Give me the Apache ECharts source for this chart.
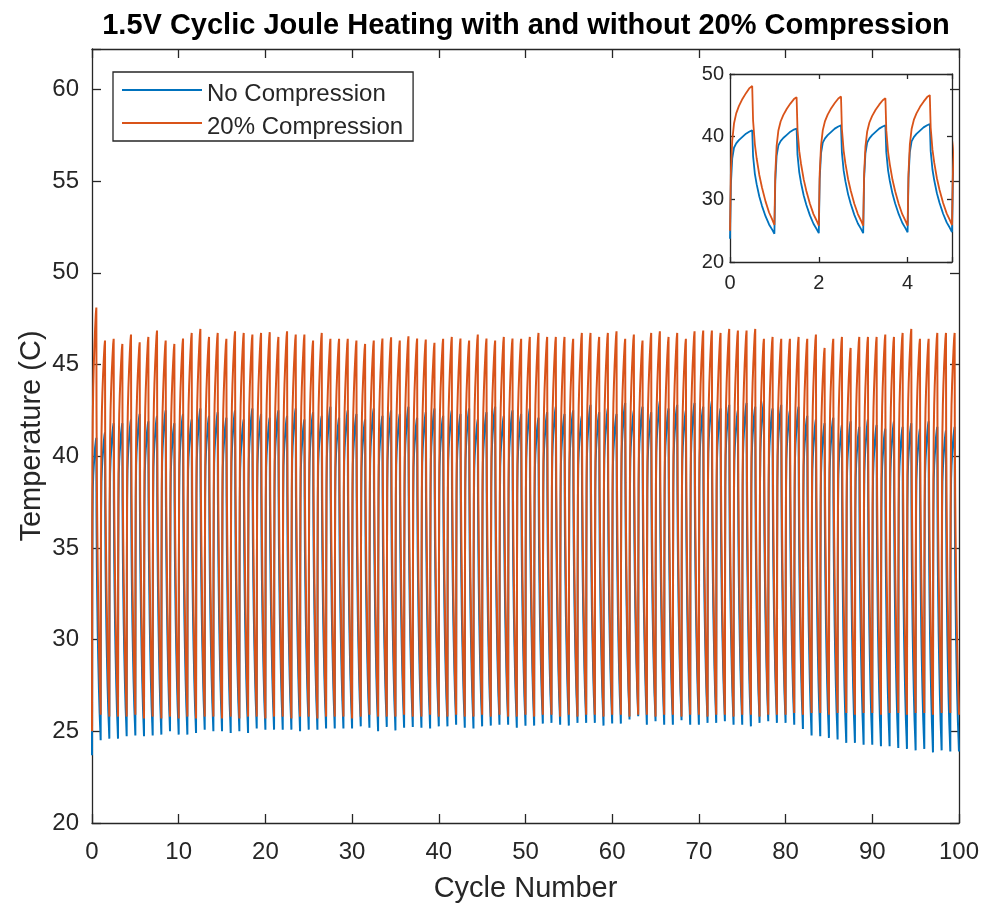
<!DOCTYPE html>
<html>
<head>
<meta charset="utf-8">
<script src="https://cdn.jsdelivr.net/npm/echarts@6/dist/echarts.min.js"></script>
<style>
html,body{margin:0;padding:0;background:#fff;}
#chart{width:982px;height:911px;}
</style>
</head>
<body>
<div id="chart"></div>
<script>
// ---- Data ----
// Temperatures at the start of the run (x = 0)
var blueStart = 23.7;
var orangeStart = 25.0;
// Peak temperature of each heating half-cycle (at x = k + 0.5), k = 0..99
var bluePeak = [
41.0,41.3,41.8,41.8,42.0,42.3,41.9,42.2,42.5,41.8,
42.3,42.0,42.6,42.2,42.4,42.1,42.5,42.0,42.6,42.3,
42.1,42.5,42.2,42.6,42.0,42.4,42.2,42.7,42.1,42.5,
42.3,42.0,42.6,42.2,42.5,42.3,42.7,42.1,42.4,42.6,
42.2,42.5,42.3,42.6,42.0,42.4,42.7,42.2,42.5,42.3,
42.6,42.1,42.4,42.7,42.3,42.5,42.2,42.8,42.4,42.6,
42.3,42.9,42.5,42.7,42.4,43.0,42.6,42.8,42.5,42.9,
42.7,43.0,42.6,42.8,42.5,42.9,42.7,43.0,42.6,42.8,
42.5,42.7,42.2,42.0,41.8,42.1,41.7,41.9,41.6,42.0,
41.7,41.5,41.9,41.6,41.8,41.5,41.9,41.6,41.4,41.6
];
var orangePeak = [
48.1,46.30,46.40,46.12,46.63,46.21,46.50,46.85,46.30,46.12,
46.41,46.72,46.94,46.50,46.72,46.40,46.81,46.72,46.63,46.72,
46.76,46.50,46.81,46.63,46.63,46.30,46.72,46.40,46.40,46.40,
46.30,46.12,46.30,46.41,46.48,46.30,46.54,46.41,46.36,46.18,
46.40,46.50,46.41,46.30,46.63,46.41,46.30,46.50,46.41,46.40,
46.50,46.72,46.50,46.50,46.50,46.40,46.72,46.72,46.50,46.72,
46.81,46.40,46.63,46.30,46.72,46.81,46.50,46.72,46.40,46.81,
46.85,46.85,46.72,46.94,46.85,46.85,46.94,46.40,46.50,46.40,
46.40,46.50,46.40,46.63,45.90,46.40,46.50,45.90,46.50,46.50,
46.50,46.63,46.50,46.72,46.94,46.40,46.40,46.72,46.72,46.72
];
// Trough temperature at the end of each cooling half-cycle (at x = k + 1), k = 0..99
var blueTrough = [
24.51,24.60,24.60,24.73,24.77,24.73,24.77,24.82,25.00,24.82,
24.82,24.91,25.09,25.00,25.00,24.91,25.00,24.91,25.15,25.09,
25.09,25.09,25.09,25.00,25.09,25.09,25.15,25.15,25.15,25.15,
25.27,25.19,25.00,25.24,25.05,25.19,25.24,25.19,25.15,25.27,
25.27,25.36,25.19,25.15,25.27,25.31,25.36,25.36,25.19,25.30,
25.31,25.42,25.46,25.36,25.31,25.46,25.46,25.46,25.31,25.42,
25.42,25.64,25.82,25.36,25.55,25.36,25.36,25.60,25.36,25.36,
25.46,25.46,25.55,25.36,25.36,25.27,25.46,25.55,25.46,25.46,
25.36,25.13,24.77,24.73,24.64,24.55,24.37,24.37,24.27,24.27,
24.18,24.18,24.09,24.04,23.96,24.04,23.85,23.96,23.90,23.90
];
var orangeTrough = [
25.9,25.8,25.8,25.8,25.9,25.7,25.8,25.7,25.8,25.7,
25.8,25.7,25.8,25.8,25.7,25.8,25.7,25.8,25.8,25.7,
25.8,25.8,25.7,25.8,25.8,25.7,25.8,25.8,25.8,25.7,
25.8,25.9,25.8,25.8,25.8,25.9,25.8,25.8,25.9,25.8,
25.8,25.9,25.8,25.8,25.9,25.8,25.9,25.8,25.8,25.9,
25.8,25.9,25.9,25.8,25.9,25.8,25.9,25.9,25.8,25.9,
25.9,25.8,25.9,25.9,25.8,25.9,25.9,25.8,25.9,25.9,
25.8,25.9,25.9,25.8,25.9,25.9,25.8,25.9,25.9,25.9,
26.0,25.9,26.0,26.0,25.9,26.0,26.0,25.9,26.0,26.0,
25.9,26.0,26.0,25.9,26.0,26.0,25.9,26.0,26.0,25.9
];
// Shape of one cycle (fraction of the way from trough to peak)
var heatTimes   = [0, 0.02, 0.05, 0.09, 0.14, 0.20, 0.28, 0.36, 0.44, 0.50];
var heatBlue    = [0, 0.50, 0.74, 0.84, 0.88, 0.91, 0.94, 0.97, 0.99, 1.00];
var heatOrange  = [0, 0.40, 0.62, 0.74, 0.81, 0.86, 0.91, 0.95, 0.985, 1.00];
var coolTimes   = [0.52, 0.56, 0.60, 0.66, 0.72, 0.80, 0.88, 0.95, 1.00];
var coolShape   = [0.75, 0.58, 0.48, 0.36, 0.27, 0.17, 0.09, 0.04, 0.00];

var legendNames = ['No Compression', '20% Compression'];
var titleText = '1.5V Cyclic Joule Heating with and without 20% Compression';
var xName = 'Cycle Number';
var yName = 'Temperature (C)';

function buildSeries(start, peaks, troughs, heat) {
  var pts = [];
  for (var k = 0; k < peaks.length; k++) {
    var lo = k === 0 ? start : troughs[k - 1];
    var hi = peaks[k];
    for (var i = (k === 0 ? 0 : 1); i < heatTimes.length; i++) {
      pts.push([k + heatTimes[i], lo + heat[i] * (hi - lo)]);
    }
    var end = troughs[k];
    for (var j = 0; j < coolTimes.length; j++) {
      pts.push([k + coolTimes[j], end + coolShape[j] * (hi - end)]);
    }
  }
  return pts;
}

var blueData = buildSeries(blueStart, bluePeak, blueTrough, heatBlue);
var orangeData = buildSeries(orangeStart, orangePeak, orangeTrough, heatOrange);

var BLUE = '#0072BD', ORANGE = '#D95319', AX = '#262626';
var FONT = '"Liberation Sans", Arial, Helvetica, sans-serif';

function lineSeries(name, data, color, xi, yi, w) {
  return {
    name: name, type: 'line', data: data, xAxisIndex: xi, yAxisIndex: yi,
    showSymbol: false, symbol: 'none', clip: true, sampling: null,
    lineStyle: { color: color, width: w }, itemStyle: { color: color },
    animation: false, silent: true
  };
}

function mirrorAxis(pos, gi, min, max, interval, len) {
  return {
    type: 'value', gridIndex: gi, position: pos, min: min, max: max, interval: interval,
    axisLine: { show: true, onZero: false, lineStyle: { color: AX, width: 1.3 } },
    axisTick: { show: true, inside: true, length: len, lineStyle: { color: AX, width: 1.3 } },
    axisLabel: { show: false }, splitLine: { show: false }
  };
}

var chart = echarts.init(document.getElementById('chart'), null, { renderer: 'canvas' });
chart.setOption({
  backgroundColor: '#ffffff',
  animation: false,
  textStyle: { fontFamily: FONT },
  title: {
    text: titleText, left: 521, top: 6, textAlign: 'center',
    textStyle: { fontFamily: FONT, fontSize: 29, fontWeight: 'bold', color: '#000' }
  },
  legend: {
    data: legendNames, orient: 'vertical', left: 113, top: 72,
    backgroundColor: '#fff', borderColor: AX, borderWidth: 1.3,
    padding: [2, 10, 2, 9], itemGap: 1, itemWidth: 80, itemHeight: 2,
    icon: 'rect',
    formatter: '{t|{name}}',
    textStyle: {
      fontFamily: FONT, fontSize: 24, color: AX,
      rich: { t: { fontFamily: FONT, fontSize: 24, color: AX, lineHeight: 24, padding: [8, 0, 0, 0] } }
    },
    selectedMode: false
  },
  grid: [
    { left: 92, top: 49, width: 867, height: 774, containLabel: false },
    { left: 730, top: 74, width: 222, height: 188, containLabel: false, backgroundColor: '#fff', show: true, borderWidth: 0 }
  ],
  xAxis: [
    {
      type: 'value', gridIndex: 0, min: 0, max: 100, interval: 10, position: 'bottom',
      name: xName, nameLocation: 'middle', nameGap: 51, nameMoveOverlap: false,
      nameTextStyle: { fontFamily: FONT, fontSize: 29, color: AX },
      axisLine: { show: true, onZero: false, lineStyle: { color: AX, width: 1.3 } },
      axisTick: { show: true, inside: true, length: 9, lineStyle: { color: AX, width: 1.3 } },
      axisLabel: { fontFamily: FONT, fontSize: 24, color: AX, margin: 17 },
      splitLine: { show: false }
    },
    mirrorAxis('top', 0, 0, 100, 10, 9),
    {
      type: 'value', gridIndex: 1, min: 0, max: 5, interval: 2, position: 'bottom',
      axisLine: { show: true, onZero: false, lineStyle: { color: AX, width: 1.3 } },
      axisTick: { show: true, inside: true, length: 5, lineStyle: { color: AX, width: 1.3 } },
      axisLabel: { fontFamily: FONT, fontSize: 20, color: AX, margin: 11,
        formatter: function (v) { return (v % 2 === 0) ? String(v) : ''; } },
      splitLine: { show: false }
    },
    mirrorAxis('top', 1, 0, 5, 2, 5)
  ],
  yAxis: [
    {
      type: 'value', gridIndex: 0, min: 20, max: 62.2, interval: 5, position: 'left',
      name: yName, nameLocation: 'middle', nameGap: 46, nameRotate: 90, nameMoveOverlap: false,
      nameTextStyle: { fontFamily: FONT, fontSize: 29, color: AX },
      axisLine: { show: true, onZero: false, lineStyle: { color: AX, width: 1.3 } },
      axisTick: { show: true, inside: true, length: 9, lineStyle: { color: AX, width: 1.3 } },
      axisLabel: { fontFamily: FONT, fontSize: 24, color: AX, margin: 13,
        formatter: function (v) { return (Math.abs(v % 5) < 1e-9) ? String(v) : ''; } },
      splitLine: { show: false }
    },
    mirrorAxis('right', 0, 20, 62.2, 5, 9),
    {
      type: 'value', gridIndex: 1, min: 20, max: 50, interval: 10, position: 'left',
      axisLine: { show: true, onZero: false, lineStyle: { color: AX, width: 1.3 } },
      axisTick: { show: true, inside: true, length: 5, lineStyle: { color: AX, width: 1.3 } },
      axisLabel: { fontFamily: FONT, fontSize: 20, color: AX, margin: 6 },
      splitLine: { show: false }
    },
    mirrorAxis('right', 1, 20, 50, 10, 5)
  ],
  series: [
    lineSeries(legendNames[0], blueData, BLUE, 0, 0, 2),
    lineSeries(legendNames[1], orangeData, ORANGE, 0, 0, 2),
    lineSeries(legendNames[0], blueData, BLUE, 2, 2, 1.8),
    lineSeries(legendNames[1], orangeData, ORANGE, 2, 2, 1.8)
  ]
});
</script>
</body>
</html>
